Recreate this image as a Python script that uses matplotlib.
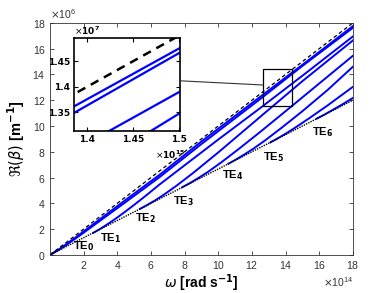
import numpy as np
import matplotlib
matplotlib.use('Agg')
import matplotlib.pyplot as plt
from matplotlib import ticker
from matplotlib.patches import Rectangle, ConnectionPatch

plt.rcParams['font.family'] = ['Liberation Sans', 'DejaVu Sans']
plt.rcParams['mathtext.fontset'] = 'dejavusans'

# omega in units of 1e14 rad/s, beta in units of 1e6 1/m
w_a = [0, 0.5, 1, 1.5, 2, 3, 4.5, 6.5, 9, 12.5, 15, 18]
b_a = [0, 0.4, 0.86, 1.33, 1.82, 2.8, 4.27, 6.2, 8.8, 12.27, 14.75, 17.75]
w_b = [0, 0.5, 1, 1.5, 2, 3, 4.5, 6.5, 9, 12.5, 15, 18]
b_b = [0, 0.37, 0.8, 1.25, 1.72, 2.67, 4.1, 6.02, 8.6, 12.1, 14.66, 17.62]
w_te1 = [2.57, 3, 3.5, 4, 4.5, 5, 5.75, 6.5, 8, 10, 12.5, 15, 18]
b_te1 = [1.71, 2.03, 2.45, 2.9, 3.38, 3.88, 4.65, 5.45, 6.95, 8.95, 11.4, 13.9, 16.95]
w_te2 = [5.35, 5.8, 6.3, 6.8, 7.5, 8.5, 10, 12.5, 15, 18]
b_te2 = [3.57, 3.89, 4.27, 4.7, 5.35, 6.35, 7.95, 10.72, 13.48, 16.64]
w_te3 = [7.85, 8.3, 8.8, 9.4, 10.2, 11.2, 12.5, 14, 16, 18]
b_te3 = [5.24, 5.56, 5.95, 6.45, 7.2, 8.2, 9.55, 11.15, 13.3, 15.45]
w_te4 = [10.6, 11, 11.5, 12.1, 12.8, 13.8, 15, 16.5, 18]
b_te4 = [7.07, 7.36, 7.75, 8.25, 8.9, 9.9, 11.15, 12.8, 14.6]
w_te5 = [13.1, 13.5, 14, 14.6, 15.4, 16.5, 18]
b_te5 = [8.73, 9.02, 9.4, 9.9, 10.6, 11.6, 13.04]
w_te6 = [15.85, 16.3, 16.8, 17.4, 18]
b_te6 = [10.57, 10.88, 11.25, 11.7, 12.18]

modes_w = [w_a, w_b, w_te1, w_te2, w_te3, w_te4, w_te5, w_te6]
modes_b = [b_a, b_b, b_te1, b_te2, b_te3, b_te4, b_te5, b_te6]

# light lines
w_light = [0, 18]
b_core = [0, 18]
b_clad = [0, 12]

# mode labels
te_names = ['0', '1', '2', '3', '4', '5', '6']
te_w = [1.37, 2.97, 5.04, 7.3, 10.2, 12.65, 15.55]
te_b = [0.7, 1.3, 2.87, 4.2, 6.2, 7.6, 9.5]

gray = '#333333'

fig = plt.figure(figsize=(3.9, 2.93), dpi=100)
ax = fig.add_axes([0.128, 0.130, 0.777, 0.792])

for w, b in zip(modes_w, modes_b):
    ax.plot(np.array(w) * 1e14, np.array(b) * 1e6, color='b', lw=1.4)
ax.plot(np.array(w_light) * 1e14, np.array(b_core) * 1e6, color='k', lw=0.9, dashes=(3, 2.2))
ax.plot(np.array(w_light) * 1e14, np.array(b_clad) * 1e6, color='k', lw=1.0, ls=(0, (1, 0.8)))

for n, w, b in zip(te_names, te_w, te_b):
    ax.text(w * 1e14, b * 1e6, 'TE$_\\mathbf{' + n + '}$', fontsize=8, fontweight='bold',
            ha='left', va='center')

ax.set_xlim(0, 18e14)
ax.set_ylim(0, 18e6)
ax.set_xticks(np.arange(2, 19, 2) * 1e14)
ax.set_yticks(np.arange(0, 19, 2) * 1e6)
fx = ticker.ScalarFormatter(useMathText=True)
fx.set_powerlimits((14, 14))
fy = ticker.ScalarFormatter(useMathText=True)
fy.set_powerlimits((6, 6))
ax.xaxis.set_major_formatter(fx)
ax.yaxis.set_major_formatter(fy)
ax.tick_params(direction='in', top=True, right=True, length=3, width=0.6,
               labelsize=7.5, colors=gray, pad=3)
ax.xaxis.get_offset_text().set_fontsize(7.5)
ax.xaxis.get_offset_text().set_color(gray)
ax.yaxis.get_offset_text().set_fontsize(7.5)
ax.yaxis.get_offset_text().set_color(gray)
for s in ax.spines.values():
    s.set_linewidth(0.6)
    s.set_color(gray)

ax.set_xlabel(r'$\omega$ [rad s$^{\mathbf{-1}}$]', fontsize=10, fontweight='bold', labelpad=1)
ax.set_ylabel(r'$\Re(\beta)$ [m$^{\mathbf{-1}}$]', fontsize=10.5, fontweight='bold', labelpad=4)

# zoom box
ax.add_patch(Rectangle((12.66e14, 11.55e6), 1.72e14, 2.85e6, fill=False, ec='k', lw=0.9, zorder=5))

# inset
axin = fig.add_axes([0.190, 0.553, 0.272, 0.317])
for w, b in zip(modes_w, modes_b):
    axin.plot(np.array(w) * 1e14, np.array(b) * 1e6, color='b', lw=1.6)
axin.plot(np.array(w_light) * 1e14, np.array(b_core) * 1e6, color='k', lw=1.8, dashes=(3.5, 2.5))
axin.set_xlim(13.86e14, 15.01e14)
axin.set_ylim(13.14e6, 14.95e6)
axin.set_xticks([1.4e15, 1.45e15, 1.5e15])
axin.set_xticklabels(['1.4', '1.45', '1.5'])
axin.set_yticks([1.35e7, 1.4e7, 1.45e7])
axin.set_yticklabels(['1.35', '1.4', '1.45'])
axin.tick_params(direction='in', top=True, right=True, length=3, width=0.8,
                 labelsize=6.5, pad=3)
for lab in axin.get_xticklabels() + axin.get_yticklabels():
    lab.set_fontweight('bold')
    lab.set_family('DejaVu Sans')
for s in axin.spines.values():
    s.set_linewidth(1.2)
axin.text(0.0, 1.015, r'$\times\mathbf{10^{7}}$', transform=axin.transAxes, fontsize=6.5,
          fontweight='bold', ha='left', va='bottom')
axin.text(1.05, -0.19, r'$\times\mathbf{10^{15}}$', transform=axin.transAxes, fontsize=6.5,
          fontweight='bold', ha='right', va='top')

con = ConnectionPatch(xyA=(1.0, 0.54), coordsA=axin.transAxes,
                      xyB=(12.66e14, 13.18e6), coordsB=ax.transData,
                      color=gray, lw=0.8)
fig.add_artist(con)

fig.savefig('out.png', dpi=100)
